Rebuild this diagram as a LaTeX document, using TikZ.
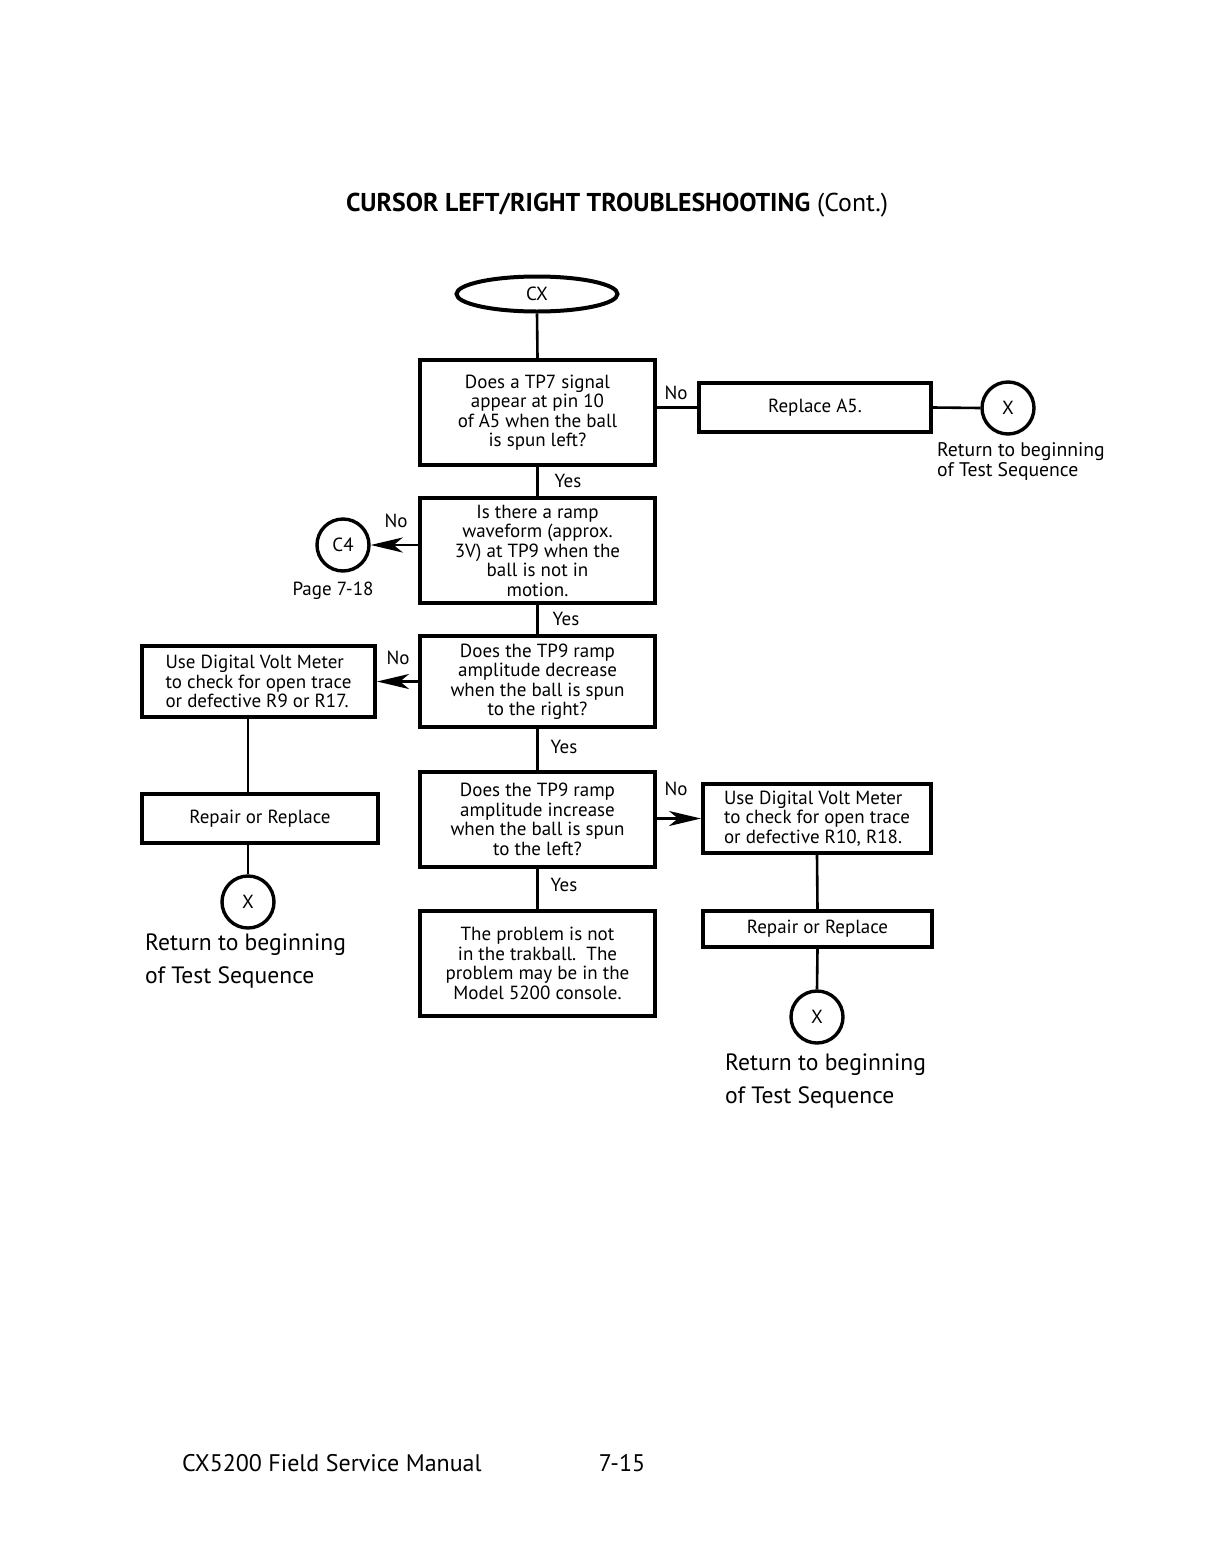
\documentclass[tikz,border=0pt]{standalone}
\usepackage{fontspec}
\setmainfont{PT Sans}
\usetikzlibrary{shapes.geometric,arrows.meta}
\begin{document}
\begin{tikzpicture}[x=1pt,y=-1pt,
  box/.style={draw, line width=4pt, rectangle, inner sep=0pt, align=center, font=\fontsize{19}{19.5}\selectfont},
  lbox/.style={box, align=left},
  conn/.style={draw, line width=3.4pt, circle, inner sep=0pt, minimum size=52pt, font=\fontsize{19}{19.5}\selectfont},
  wire/.style={line width=2.6pt},
  arr/.style={line width=2.6pt, -{Stealth[length=32pt,width=15pt,inset=9pt]}},
  lab/.style={font=\fontsize{19}{19.5}\selectfont, inner sep=0pt},
  ret/.style={font=\fontsize{19.7}{20}\selectfont, inner sep=0pt, align=left},
  bigret/.style={font=\fontsize{23.6}{33}\selectfont, inner sep=0pt, align=left}
]
\useasboundingbox (0,0) rectangle (1218,1558);

% title
\node[font=\fontsize{25.8}{28}\selectfont, inner sep=0pt] (title) at (617,205) {\textbf{CURSOR LEFT/RIGHT TROUBLESHOOTING} (Cont.)};

% start
\node[draw, ellipse, line width=4pt, minimum width=161pt, minimum height=35pt, inner sep=0pt, font=\fontsize{19}{19.5}\selectfont] (cx) at (537,294) {CX};

% main column
\node[box, minimum width=235pt, minimum height=105pt] (b1) at (537.5,412.5) {Does a TP7 signal\\appear at pin 10\\of A5 when the ball\\is spun left?};
\node[box, minimum width=235pt, minimum height=105pt] (b2) at (537.5,550.5) {Is there a ramp\\waveform (approx.\\3V) at TP9 when the\\ball is not in\\motion.};
\node[box, minimum width=235pt, minimum height=91pt] (b3) at (537.5,681.5) {Does the TP9 ramp\\amplitude decrease\\when the ball is spun\\to the right?};
\node[box, minimum width=235pt, minimum height=95pt] (b4) at (537.5,819.5) {Does the TP9 ramp\\amplitude increase\\when the ball is spun\\to the left?};
\node[box, minimum width=235pt, minimum height=105pt] (b5) at (537.5,963.5) {The problem is not\\in the trakball.\ \ The\\problem may be in the\\Model 5200 console.};

% right branch top
\node[box, minimum width=232pt, minimum height=49pt] (r5) at (815,407.5) {Replace A5.};
\node[conn] (x1) at (1008,408) {X};
\node[ret, anchor=north west] (ret1) at (937,442) {Return to beginning\\ of Test Sequence};

% C4
\node[conn] (c4) at (343,545) {C4};
\node[lab] (pg) at (333,591) {Page 7-18};

% left branch
\node[lbox, minimum width=233pt, minimum height=71pt] (ua) at (258.5,681.5) {Use Digital Volt Meter\\to check for open trace\\or defective R9 or R17.};
\node[box, minimum width=236pt, minimum height=49pt] (rl) at (260,818.5) {Repair or Replace};
\node[conn] (x2) at (248,902) {X};
\node[bigret, anchor=north west] (ret2) at (145,934) {Return to beginning\\of Test Sequence};

% right branch bottom
\node[lbox, minimum width=228pt, minimum height=69pt] (ub) at (817,818.5) {Use Digital Volt Meter\\to check for open trace\\or defective R10, R18.};
\node[box, minimum width=229pt, minimum height=36pt] (rr) at (817.5,929) {Repair or Replace};
\node[conn] (x3) at (817,1017) {X};
\node[bigret, anchor=north west] (ret3) at (725,1054) {Return to beginning\\of Test Sequence};

% labels
\node[lab] (no1) at (676,393) {No};
\node[lab] (yes1) at (568,481) {Yes};
\node[lab] (no2) at (396,521) {No};
\node[lab] (yes2) at (566,619) {Yes};
\node[lab] (no3) at (398,658) {No};
\node[lab] (yes3) at (564,747) {Yes};
\node[lab] (no4) at (676,789) {No};
\node[lab] (yes4) at (564,885) {Yes};

% connectors
\draw[wire] (cx.south) -- (b1.north);
\draw[wire] (b1.south) -- (b2.north);
\draw[wire] (b2.south) -- (b3.north);
\draw[wire] (b3.south) -- (b4.north);
\draw[wire] (b4.south) -- (b5.north);
\draw[wire] (b1.east |- r5.west) -- (r5.west);
\draw[wire] (r5.east) -- (x1.west);
\draw[arr] (b2.west |- c4.east) -- (c4.east);
\draw[arr] (b3.west |- ua.east) -- (ua.east);
\draw[arr] (b4.east |- ub.west) -- (ub.west);
\draw[wire] (x2 |- ua.south) -- (x2 |- rl.north);
\draw[wire] (x2 |- rl.south) -- (x2.north);
\draw[wire] (ub.south) -- (rr.north);
\draw[wire] (rr.south) -- (x3.north);

% footer
\node[font=\fontsize{24}{26}\selectfont, inner sep=0pt, anchor=west] (foot1) at (182,1463) {CX5200 Field Service Manual};
\node[font=\fontsize{24}{26}\selectfont, inner sep=0pt] (foot2) at (622,1463) {7-15};
\end{tikzpicture}
\end{document}
